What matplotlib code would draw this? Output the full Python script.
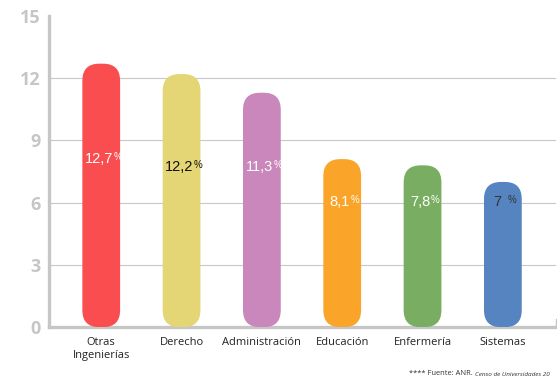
import numpy as np
import matplotlib.pyplot as plt
from matplotlib.patches import FancyBboxPatch

carreras = ['Otras\nIngenierías', 'Derecho', 'Administración', 'Educación', 'Enfermería', 'Sistemas']
porcentajes = [12.7, 12.2, 11.3, 8.1, 7.8, 7.0]
etiquetas = ['12,7', '12,2', '11,3', '8,1', '7,8', '7 ']
colores = ['#F94D4F', '#E4D575', '#C987BB', '#FBA42A', '#79AE62', '#5584C0']
color_texto = ['white', '#111111', 'white', 'white', 'white', '#333333']
altura_etiqueta = [8.1, 7.7, 7.7, 6.05, 6.05, 6.05]
yticks = [0, 3, 6, 9, 12, 15]

gris = '#C6C6C6'
fig = plt.figure(figsize=(5.57, 3.8), dpi=100)
ax = fig.add_axes([0.088, 0.139, 0.91, 0.819])
ax.set_xlim(-0.65, 5.66)
ax.set_ylim(0, 15)

# escala px por unidad para redondear bien las esquinas
ancho = 0.47
px_x = ax.transData.transform((1, 0))[0] - ax.transData.transform((0, 0))[0]
px_y = ax.transData.transform((0, 1))[1] - ax.transData.transform((0, 0))[1]
radio = 17 / px_x
aspecto = px_x / px_y

for i, v in enumerate(porcentajes):
    p = FancyBboxPatch((i - ancho / 2, 0), ancho, v,
                       boxstyle=f'round,pad=0,rounding_size={radio}',
                       mutation_aspect=aspecto,
                       facecolor=colores[i], edgecolor='none', zorder=3)
    ax.add_patch(p)
    t = ax.text(i - 0.03, altura_etiqueta[i], etiquetas[i], ha='center', va='center',
                color=color_texto[i], fontsize=10.5, family='Liberation Sans', zorder=4)
    ax.annotate('%', xy=(1, 1), xycoords=t, xytext=(0.5, 0), textcoords='offset points',
                ha='left', va='top', fontsize=7, color=color_texto[i],
                family='Liberation Sans', zorder=4)

ax.set_yticks(yticks)
ax.set_yticklabels([str(y) for y in yticks], fontsize=13, fontweight='bold', color=gris,
                   family='Open Sans')
for y in yticks[1:-1]:
    ax.axhline(y, color='#C8C8C8', lw=0.8, zorder=1)

ax.set_xticks(range(len(carreras)))
ax.set_xticklabels(carreras, fontsize=8, family='Open Sans', color='#222222', linespacing=1.3)
ax.tick_params(axis='both', length=0)
ax.tick_params(axis='y', pad=6)
ax.tick_params(axis='x', pad=7)

for s in ['top', 'right']:
    ax.spines[s].set_visible(False)
for s in ['left', 'bottom']:
    ax.spines[s].set_color(gris)
    ax.spines[s].set_linewidth(2.4)
ax.plot([1, 1], [0, 0.025], transform=ax.transAxes, color=gris, lw=1, clip_on=False)

# nota de fuente (cortada en el original)
f1 = fig.text(0.735, 0.013, '**** Fuente: ANR. ', fontsize=5.4, family='Open Sans', color='#333333')
ax.annotate('Censo de Universidades 20', xy=(1, 0), xycoords=f1, va='bottom', ha='left',
            fontsize=4.6, family='Open Sans', style='italic', color='#333333',
            annotation_clip=False)

fig.savefig('out.png', dpi=100)
